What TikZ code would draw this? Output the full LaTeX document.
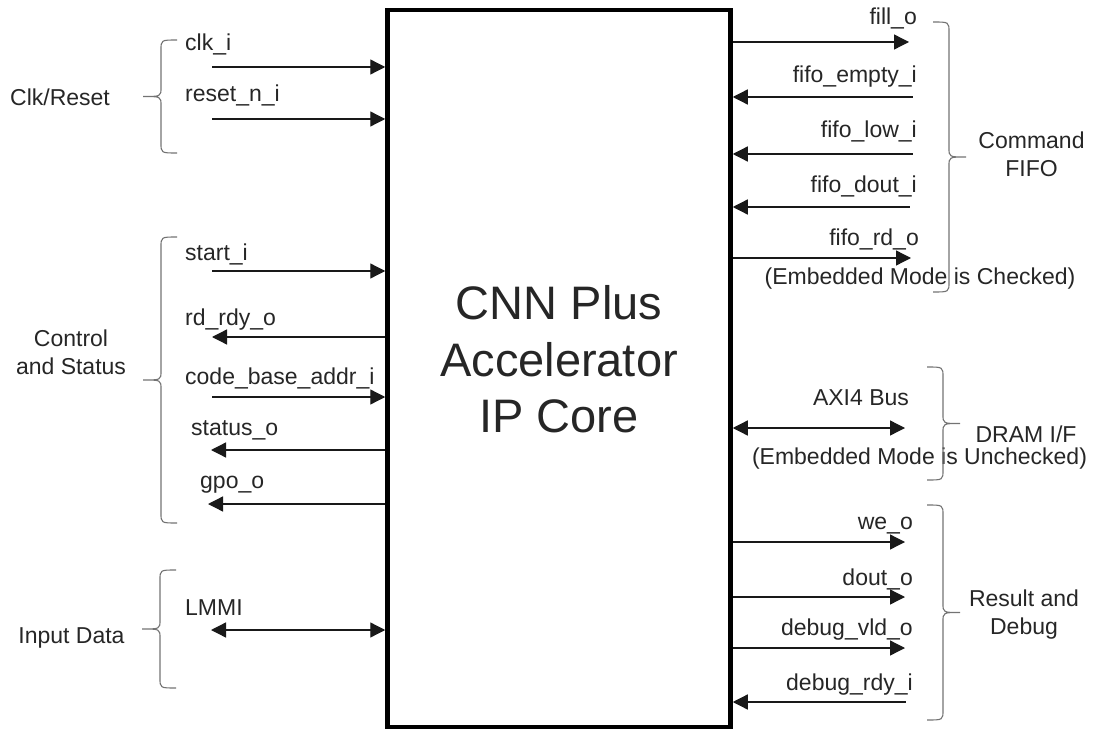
\documentclass[tikz,border=0pt]{standalone}
\usepackage{fontspec}
\setmainfont{Liberation Sans}
\usepackage{xcolor}
\usetikzlibrary{positioning, arrows.meta, calc}
% group braces: end x, top y, bottom y
\newcommand{\grpbraceL}[3]{\draw[brc] (#1,#2) .. controls ({#1-16},#2) .. ({#1-16},{#2+10}) -- ({#1-16},{(#2+#3)/2-9}) .. controls ({#1-16},{(#2+#3)/2}) .. ({#1-34},{(#2+#3)/2}) .. controls ({#1-16},{(#2+#3)/2}) .. ({#1-16},{(#2+#3)/2+9}) -- ({#1-16},{#3-10}) .. controls ({#1-16},#3) .. (#1,#3);}
\newcommand{\grpbraceR}[3]{\draw[brc] (#1,#2) .. controls ({#1+16},#2) .. ({#1+16},{#2+10}) -- ({#1+16},{(#2+#3)/2-9}) .. controls ({#1+16},{(#2+#3)/2}) .. ({#1+33},{(#2+#3)/2}) .. controls ({#1+16},{(#2+#3)/2}) .. ({#1+16},{(#2+#3)/2+9}) -- ({#1+16},{#3-10}) .. controls ({#1+16},#3) .. (#1,#3);}

\begin{document}
\begin{tikzpicture}[
  x=1pt, y=-1pt, >={Triangle[length=15pt, width=15pt]},
  font=\fontsize{23}{28}\selectfont, text=black!85,
  core/.style={draw, line width=4.5pt, minimum width=343pt, minimum height=717pt},
  ttl/.style ={font=\fontsize{47}{56.5}\selectfont, align=center, inner sep=0pt},
  lbl/.style ={inner sep=0pt, anchor=base west},
  rlbl/.style={inner sep=0pt, anchor=base east},
  grp/.style ={inner sep=0pt, align=center},
  sig/.style ={line width=1.3pt, draw=black!90},
  brc/.style ={draw=black!55, line width=1.1pt}]
\useasboundingbox (0,0) rectangle (1100,730);
\node[core] (core) at (559,368.5) {};
\node[ttl] (ttl) at (core.center) [yshift=9pt] {CNN Plus\\Accelerator\\IP Core};
% left side: clk/reset, control and status, input data
\node[lbl] (clkl)   at (185,51)  {clk\_i};          \coordinate (clk)   at (212,67);
\node[lbl] (rstl)   at (185,102) {reset\_n\_i};     \coordinate (rst)   at (212,119);
\node[lbl] (startl) at (185,260) {start\_i};        \coordinate (start) at (212,271);
\node[lbl] (rdyl)   at (185,325) {rd\_rdy\_o};      \coordinate (rdy)   at (212,337);
\node[lbl] (cbal)   at (185,384) {code\_base\_addr\_i}; \coordinate (cba) at (212,397);
\node[lbl] (statl)  at (191,435) {status\_o};       \coordinate (stat)  at (211,450);
\node[lbl] (gpol)   at (200,488) {gpo\_o};          \coordinate (gpo)   at (208,504);
\node[lbl] (lmmil)  at (185,615) {LMMI};            \coordinate (lmmi)  at (211,630);
\draw[sig,->] (clk)--(clk-|core.west); \draw[sig,->] (rst)--(rst-|core.west);
\draw[sig,->] (start)--(start-|core.west); \draw[sig,<-] (rdy)--(rdy-|core.west);
\draw[sig,->] (cba)--(cba-|core.west); \draw[sig,<-] (stat)--(stat-|core.west);
\draw[sig,<-] (gpo)--(gpo-|core.west); \draw[sig,<->] (lmmi)--(lmmi-|core.west);
\grpbraceL{177}{40}{153}
\grpbraceL{177}{237}{523}
\grpbraceL{176}{570}{688}
\node[grp, anchor=base] (clkg) at (60,106) {Clk/Reset};
\node[grp] (ctlg) at (71,352.5) {Control\\and Status};
\node[grp, anchor=base] (ing) at (71.5,643) {Input Data};
% right side: command fifo, dram, result and debug
\node[rlbl] (filll)  at (917,25)  {fill\_o};        \coordinate (fill)  at (909,42);
\node[rlbl] (emptl)  at (917,83)  {fifo\_empty\_i}; \coordinate (empt)  at (913,97);
\node[rlbl] (lowl)   at (917,138) {fifo\_low\_i};   \coordinate (low)   at (913,154);
\node[rlbl] (doutfl) at (917,193) {fifo\_dout\_i};  \coordinate (doutf) at (910,207);
\node[rlbl] (rdl)    at (919,245) {fifo\_rd\_o};    \coordinate (rd)    at (911,258);
\node[grp, anchor=base] (chk) at (920,284) {(Embedded Mode is Checked)};
\node[grp, anchor=base] (axil) at (861,405) {AXI4 Bus}; \coordinate (axi) at (905,428);
\node[grp, anchor=base] (unchk) at (919.5,464) {(Embedded Mode is Unchecked)};
\node[rlbl] (wel)    at (913,529) {we\_o};          \coordinate (we)    at (905,542);
\node[rlbl] (doutl)  at (913,585) {dout\_o};        \coordinate (dout)  at (905,597);
\node[rlbl] (vldl)   at (913,635) {debug\_vld\_o};  \coordinate (vld)   at (905,648);
\node[rlbl] (drdyl)  at (913,690) {debug\_rdy\_i};  \coordinate (drdy)  at (906,702);
\draw[sig,->] (fill-|core.east)--(fill); \draw[sig,<-] (empt-|core.east)--(empt);
\draw[sig,<-] (low-|core.east)--(low); \draw[sig,<-] (doutf-|core.east)--(doutf);
\draw[sig,->] (rd-|core.east)--(rd); \draw[sig,<->] (axi-|core.east)--(axi);
\draw[sig,->] (we-|core.east)--(we); \draw[sig,->] (dout-|core.east)--(dout);
\draw[sig,->] (vld-|core.east)--(vld); \draw[sig,<-] (drdy-|core.east)--(drdy);
\grpbraceR{933}{22}{292}
\grpbraceR{927}{367}{480}
\grpbraceR{927}{505}{720}
\node[grp] (cmdg) at (1031.5,154) {Command\\FIFO};
\node[grp, anchor=base] (dramg) at (1026,442) {DRAM I/F};
\node[grp] (resg) at (1024,615) {Result and\\Debug};
\end{tikzpicture}
\end{document}
